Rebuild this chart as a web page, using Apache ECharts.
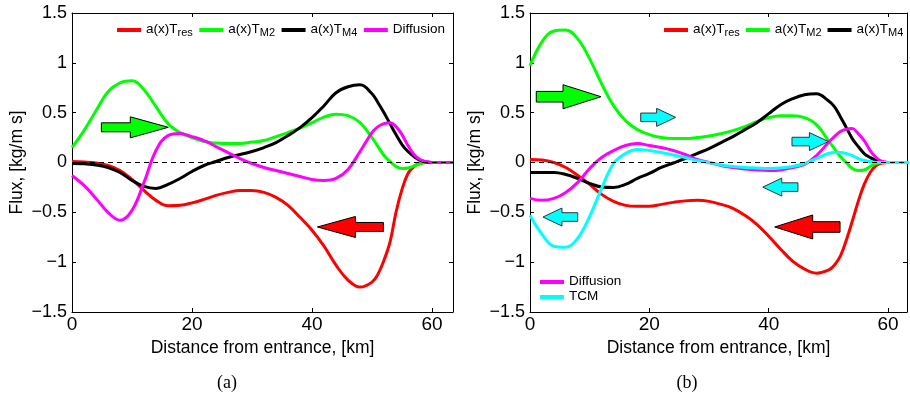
<!DOCTYPE html>
<html>
<head>
<meta charset="utf-8">
<script src="https://cdn.jsdelivr.net/npm/echarts@6/dist/echarts.min.js"></script>
<style>
html,body{margin:0;padding:0;background:#fff;}
#c{width:910px;height:401px;}
</style>
</head>
<body>
<div id="c"></div>
<script>
// ---- data (km, kg/m s) ----
const xs = [0,2,4,6,8,10,12,14,16,18,20,22,24,26,28,30,32,34,36,38,40,42,44,46,48,50,51,52,53,54,55,56,57,58,59,60,62,63.5];

// panel (a)
const resA = [0.01,0.005,-0.005,-0.03,-0.08,-0.17,-0.28,-0.38,-0.435,-0.43,-0.405,-0.37,-0.33,-0.30,-0.28,-0.28,-0.30,-0.35,-0.43,-0.55,-0.68,-0.84,-1.03,-1.18,-1.25,-1.20,-1.12,-0.98,-0.80,-0.50,-0.27,-0.11,-0.04,-0.01,0,0,0,0];
const m2A  = [0.15,0.32,0.52,0.71,0.80,0.82,0.73,0.56,0.39,0.30,0.25,0.21,0.195,0.19,0.19,0.205,0.22,0.26,0.30,0.345,0.40,0.455,0.485,0.47,0.40,0.25,0.16,0.07,0.01,-0.04,-0.06,-0.055,-0.035,-0.01,0,0,0,0];
const m4A  = [-0.01,-0.012,-0.025,-0.05,-0.10,-0.18,-0.24,-0.26,-0.22,-0.16,-0.09,-0.03,0.01,0.05,0.08,0.11,0.15,0.20,0.27,0.35,0.45,0.57,0.70,0.76,0.78,0.69,0.60,0.50,0.39,0.28,0.18,0.11,0.06,0.02,0.005,0,0,0];
const difA = [-0.13,-0.23,-0.36,-0.50,-0.58,-0.48,-0.20,0.12,0.27,0.29,0.26,0.22,0.16,0.10,0.04,-0.01,-0.05,-0.08,-0.11,-0.14,-0.17,-0.18,-0.16,-0.07,0.11,0.30,0.36,0.39,0.40,0.36,0.28,0.17,0.08,0.03,0.01,0,0,0];

// panel (b)
const resB = [0.03,0.025,0.0,-0.05,-0.13,-0.22,-0.32,-0.39,-0.43,-0.44,-0.44,-0.42,-0.40,-0.385,-0.38,-0.39,-0.42,-0.46,-0.53,-0.62,-0.74,-0.87,-0.99,-1.07,-1.11,-1.08,-1.03,-0.94,-0.78,-0.59,-0.39,-0.22,-0.10,-0.03,-0.005,0,0,0];
const m2B  = [0.97,1.21,1.32,1.33,1.24,1.04,0.79,0.57,0.42,0.33,0.28,0.25,0.24,0.24,0.25,0.265,0.29,0.32,0.36,0.41,0.45,0.47,0.47,0.45,0.38,0.22,0.14,0.06,0.0,-0.06,-0.08,-0.075,-0.04,-0.01,0,0,0,0];
const m4B  = [-0.10,-0.10,-0.10,-0.12,-0.16,-0.21,-0.245,-0.25,-0.22,-0.16,-0.11,-0.05,-0.005,0.04,0.09,0.14,0.20,0.26,0.33,0.40,0.49,0.58,0.64,0.68,0.69,0.62,0.56,0.46,0.35,0.24,0.16,0.09,0.05,0.02,0.005,0,0,0];
const difB = [-0.36,-0.38,-0.36,-0.30,-0.20,-0.06,0.05,0.12,0.17,0.19,0.17,0.15,0.12,0.08,0.03,0.0,-0.03,-0.05,-0.065,-0.075,-0.08,-0.075,-0.05,-0.02,0.07,0.20,0.26,0.31,0.335,0.34,0.29,0.22,0.12,0.05,0.01,0,0,0];
const tcmB = [-0.53,-0.72,-0.84,-0.85,-0.76,-0.54,-0.26,-0.01,0.09,0.13,0.12,0.10,0.075,0.05,0.02,0.0,-0.025,-0.04,-0.05,-0.055,-0.06,-0.055,-0.04,-0.01,0.04,0.09,0.10,0.10,0.09,0.07,0.04,0.02,0.01,0,0,0,0,0];

// arrows: [tail x, tip x, y]
const arrowsM2A  = [[4.9, 16.05, 0.353]];
const arrowsResA = [[51.9, 40.9, -0.647]];
const arrowsM2B  = [[1.05, 11.9, 0.66]];
const arrowsResB = [[51.95, 41.0, -0.647]];
const arrowsTcmB = [[18.55, 24.4, 0.453], [43.9, 50.0, 0.21], [44.9, 39.0, -0.247], [8.0, 2.17, -0.547]];

const yTicksMin = -1.5, yTicksMax = 1.5, yStep = 0.5;
const xMinA = 0, xMaxA = 63.5, xMaxB = 63.17, xStep = 20;

// ---- styles ----
const COL = {res:'#ff0000', M2:'#00ff00', M4:'#000000', Diffusion:'#ff00ff', TCM:'#00ffff'};
const FONT = 'Liberation Sans, Arial, Helvetica, sans-serif';

const chart = echarts.init(document.getElementById('c'), null, {renderer:'canvas'});

function pairs(v){ return xs.map((x,i)=>[x, v[i]]); }

function lineSeries(name, vals, xi, yi, withZero){
  const s = {
    name, type:'line', xAxisIndex:xi, yAxisIndex:yi, data:pairs(vals),
    smooth:0.4, showSymbol:false, symbol:'none',
    lineStyle:{color:COL[name], width:3}, itemStyle:{color:COL[name]},
    silent:true, animation:false, clip:true
  };
  if (withZero) {
    s.markLine = {silent:true, symbol:['none','none'], label:{show:false},
      lineStyle:{color:'#000', type:[5,4], width:1.2}, data:[{yAxis:0}], animation:false};
  }
  return s;
}

function arrowSeries(data, xi, yi, fill, stroke, size){
  return {
    type:'custom', xAxisIndex:xi, yAxisIndex:yi, data, encode:{x:[0,1], y:2},
    z:5, silent:true, animation:false, clip:false,
    renderItem:(params, api)=>{
      const a = api.coord([api.value(0), api.value(2)]);
      const b = api.coord([api.value(1), api.value(2)]);
      const dir = b[0] >= a[0] ? 1 : -1;
      const bx = b[0] - dir*size.headLen;
      const y = a[1];
      const pts = [[a[0], y-size.shaftHalf],[bx, y-size.shaftHalf],[bx, y-size.headHalf],[b[0], y],
                   [bx, y+size.headHalf],[bx, y+size.shaftHalf],[a[0], y+size.shaftHalf]];
      return {type:'polygon', shape:{points:pts}, style:{fill, stroke, lineWidth:1}};
    }
  };
}

const BIG_A = {headLen:38, headHalf:10.5, shaftHalf:4.5};
const BIG_B = {headLen:38, headHalf:12, shaftHalf:5.3};
const SMALL = {headLen:19, headHalf:9, shaftHalf:4.3};

function xAxes(gi, max){
  return [
    {type:'value', gridIndex:gi, position:'bottom', min:xMinA, max, interval:xStep,
     axisLine:{show:true, onZero:false, lineStyle:{color:'#000', width:1}},
     axisTick:{show:true, inside:true, length:4, lineStyle:{color:'#000'}},
     axisLabel:{show:true, color:'#000', fontSize:19, fontFamily:FONT, margin:3,
       formatter:v=> (Math.abs(v % xStep) < 1e-9 ? String(v) : '')},
     splitLine:{show:false},
     name:'Distance from entrance, [km]', nameLocation:'middle', nameGap:19,
     nameTextStyle:{color:'#000', fontSize:17.5, fontFamily:FONT}},
    {type:'value', gridIndex:gi, position:'top', min:xMinA, max, interval:xStep,
     axisLine:{show:true, onZero:false, lineStyle:{color:'#000', width:1}},
     axisTick:{show:true, inside:true, length:4, lineStyle:{color:'#000'}},
     axisLabel:{show:false}, splitLine:{show:false}}
  ];
}
function yAxes(gi){
  return [
    {type:'value', gridIndex:gi, position:'left', min:yTicksMin, max:yTicksMax, interval:yStep,
     axisLine:{show:true, onZero:false, lineStyle:{color:'#000', width:1}},
     axisTick:{show:true, inside:true, length:4, lineStyle:{color:'#000'}},
     axisLabel:{show:true, color:'#000', fontSize:18, fontFamily:FONT, margin:5,
       formatter:v=> String(v).replace('-', '\u2212')},
     splitLine:{show:false},
     name:'Flux, [kg/m s]', nameLocation:'middle', nameGap:46, nameRotate:90,
     nameTextStyle:{color:'#000', fontSize:17.5, fontFamily:FONT}},
    {type:'value', gridIndex:gi, position:'right', min:yTicksMin, max:yTicksMax, interval:yStep,
     axisLine:{show:true, onZero:false, lineStyle:{color:'#000', width:1}},
     axisTick:{show:true, inside:true, length:4, lineStyle:{color:'#000'}},
     axisLabel:{show:false}, splitLine:{show:false}}
  ];
}

const legendLabels = {
  res:'{m|a(x)T}{s|res}', M2:'{m|a(x)T}{s|M2}', M4:'{m|a(x)T}{s|M4}',
  Diffusion:'{m|Diffusion}', TCM:'{m|TCM}'
};
const richLegend = {
  m:{fontSize:13.5, fontFamily:FONT, color:'#000', verticalAlign:'top', lineHeight:16},
  s:{fontSize:11, fontFamily:FONT, color:'#000', verticalAlign:'bottom', lineHeight:12, padding:[8,0,0,0]}
};
function legend(data, left, top, orient, gap){
  return {
    data, left, top, orient, itemGap:gap, itemWidth:24, itemHeight:4, icon:'rect',
    padding:0, selectedMode:false,
    formatter:n=>legendLabels[n],
    textStyle:{color:'#000', fontSize:13.5, fontFamily:FONT, rich:richLegend}
  };
}

const option = {
  animation:false,
  backgroundColor:'#fff',
  grid:[
    {left:72, top:13, width:381, height:299},
    {left:530, top:13, width:379, height:299}
  ],
  xAxis:[...xAxes(0, xMaxA), ...xAxes(1, xMaxB)],
  yAxis:[...yAxes(0), ...yAxes(1)],
  legend:[
    legend(['res','M2','M4','Diffusion'], 117, 19, 'horizontal', 6.5),
    legend(['res','M2','M4'], 664, 19, 'horizontal', 6),
    legend(['Diffusion','TCM'], 540, 274, 'vertical', 1)
  ],
  series:[
    lineSeries('res', resA, 0, 0, true),
    lineSeries('M2', m2A, 0, 0),
    lineSeries('M4', m4A, 0, 0),
    lineSeries('Diffusion', difA, 0, 0),
    arrowSeries(arrowsM2A, 0, 0, COL.M2, '#000', BIG_A),
    arrowSeries(arrowsResA, 0, 0, COL.res, '#000', BIG_A),

    lineSeries('res', resB, 2, 2, true),
    lineSeries('M2', m2B, 2, 2),
    lineSeries('M4', m4B, 2, 2),
    lineSeries('Diffusion', difB, 2, 2),
    lineSeries('TCM', tcmB, 2, 2),
    arrowSeries(arrowsM2B, 2, 2, COL.M2, '#000', BIG_B),
    arrowSeries(arrowsResB, 2, 2, COL.res, '#000', BIG_B),
    arrowSeries(arrowsTcmB, 2, 2, COL.TCM, '#333', SMALL)
  ],
  graphic:[
    {type:'text', x:227, y:383, style:{text:'(a)', font:'18px "Liberation Serif", "Times New Roman", serif', fill:'#000', align:'center', verticalAlign:'middle'}},
    {type:'text', x:687, y:383, style:{text:'(b)', font:'18px "Liberation Serif", "Times New Roman", serif', fill:'#000', align:'center', verticalAlign:'middle'}}
  ]
};
chart.setOption(option);
</script>
</body>
</html>
